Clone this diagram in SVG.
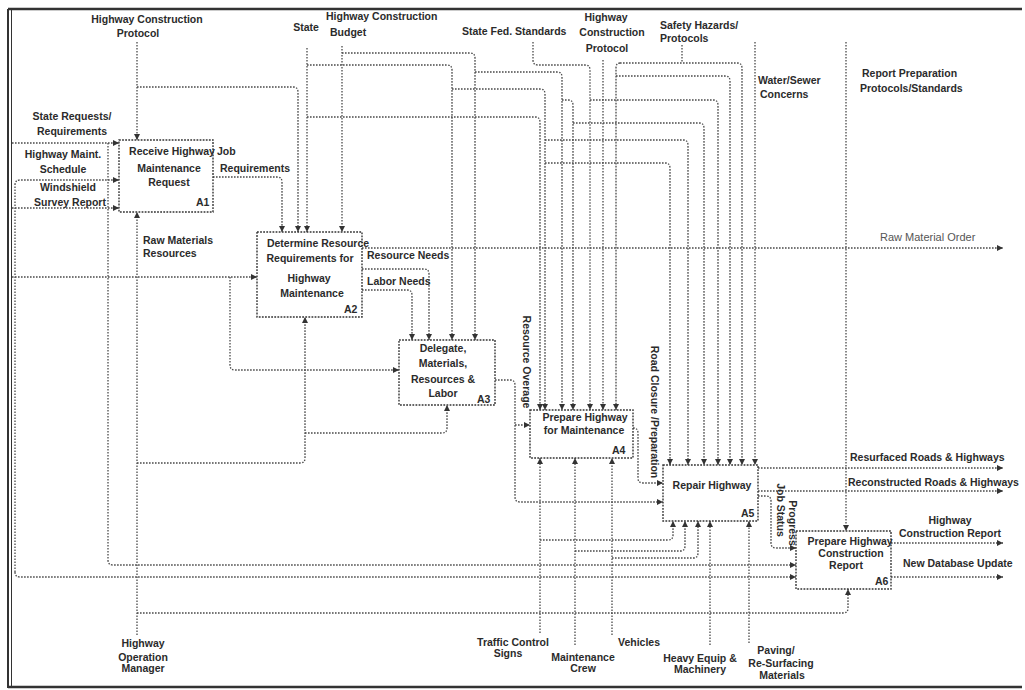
<svg xmlns="http://www.w3.org/2000/svg" width="1025" height="690" viewBox="0 0 1025 690">
<defs>
<marker id="ar" markerUnits="userSpaceOnUse" markerWidth="8" markerHeight="8" refX="6" refY="3" orient="auto">
<path d="M0,0 L6,3 L0,6 z" fill="#333"/>
</marker>
<style>
.c{fill:none;stroke:#4a4a4a;stroke-width:1.3;stroke-dasharray:1.6 1.4}
.b{fill:#fff;stroke:#333;stroke-width:1.4;stroke-dasharray:1.8 1.3}
.t{font-family:"Liberation Sans",Arial,sans-serif;font-size:10.5px;font-weight:bold;fill:#2b2b2b}
.m{text-anchor:middle}
.n{font-family:"Liberation Sans",Arial,sans-serif;font-size:11px;fill:#555}
.f{fill:none;stroke:#333}
</style>
</defs>
<rect width="1025" height="690" fill="#fff"/>
<g id="frame">
<path class="f" d="M8,9 H1022" stroke-width="2.5"/>
<path class="f" d="M8,687 H1022" stroke-width="2.5"/>
<path class="f" d="M8,9 V688" stroke-width="2"/>
<path class="f" d="M11.5,9 V688" stroke-width="1"/>
</g>
<g id="connectors">
<path class="c" d="M137,42 V140" marker-end="url(#ar)"/>
<path class="c" d="M137,87 H293 Q298,87 298,92 V232" marker-end="url(#ar)"/>
<path class="c" d="M307,48 V232" marker-end="url(#ar)"/>
<path class="c" d="M307,65 H447 Q452,65 452,70 V340" marker-end="url(#ar)"/>
<path class="c" d="M452,89 H540 Q545,89 545,94 V410" marker-end="url(#ar)"/>
<path class="c" d="M307,117 H535 Q540,117 540,122 V410" marker-end="url(#ar)"/>
<path class="c" d="M545,140 H683 Q688,140 688,145 V465" marker-end="url(#ar)"/>
<path class="c" d="M545,163 H665 Q670,163 670,168 V465" marker-end="url(#ar)"/>
<path class="c" d="M342,46 V232" marker-end="url(#ar)"/>
<path class="c" d="M342,53 H470 Q475,53 475,58 V340" marker-end="url(#ar)"/>
<path class="c" d="M475,72 H557 Q562,72 562,77 V410" marker-end="url(#ar)"/>
<path class="c" d="M562,100 H568 Q573,100 573,105 V410" marker-end="url(#ar)"/>
<path class="c" d="M573,123 H699 Q704,123 704,128 V465" marker-end="url(#ar)"/>
<path class="c" d="M533,42 V60 Q533,65 538,65 H585 Q590,65 590,70 V410" marker-end="url(#ar)"/>
<path class="c" d="M590,100 H713 Q718,100 718,105 V465" marker-end="url(#ar)"/>
<path class="c" d="M603,60 V410" marker-end="url(#ar)"/>
<path class="c" d="M682,45 V63"/>
<path class="c" d="M620,63 H737 Q742,63 742,68 V465" marker-end="url(#ar)"/>
<path class="c" d="M620,63 Q616,63 616,68 V410" marker-end="url(#ar)"/>
<path class="c" d="M616,76 H725 Q730,76 730,81 V465" marker-end="url(#ar)"/>
<path class="c" d="M755,42 V465" marker-end="url(#ar)"/>
<path class="c" d="M846,42 V531" marker-end="url(#ar)"/>
<path class="c" d="M12,143 H119" marker-end="url(#ar)"/>
<path class="c" d="M108,143 V560 Q108,565 113,565 H796" marker-end="url(#ar)"/>
<path class="c" d="M15,572 V185 Q15,180 20,180 H119" marker-end="url(#ar)"/>
<path class="c" d="M15,572 Q15,577 20,577 H796" marker-end="url(#ar)"/>
<path class="c" d="M12,208 H119" marker-end="url(#ar)"/>
<path class="c" d="M213,177 H277 Q282,177 282,182 V232" marker-end="url(#ar)"/>
<path class="c" d="M12,277 H257" marker-end="url(#ar)"/>
<path class="c" d="M230,277 V365 Q230,370 235,370 H399" marker-end="url(#ar)"/>
<path class="c" d="M137,635 V212" marker-end="url(#ar)"/>
<path class="c" d="M137,463 H300 Q305,463 305,458 V317" marker-end="url(#ar)"/>
<path class="c" d="M305,433 H442 Q447,433 447,428 V405" marker-end="url(#ar)"/>
<path class="c" d="M137,613 H843 Q848,613 848,608 V589" marker-end="url(#ar)"/>
<path class="c" d="M362,248 H1003" marker-end="url(#ar)"/>
<path class="c" d="M362,269 H424 Q429,269 429,274 V340" marker-end="url(#ar)"/>
<path class="c" d="M362,290 H407 Q412,290 412,295 V340" marker-end="url(#ar)"/>
<path class="c" d="M495,380 H510 Q515,380 515,385 V497 Q515,502 520,502 H663" marker-end="url(#ar)"/>
<path class="c" d="M515,425 H530" marker-end="url(#ar)"/>
<path class="c" d="M633,428 Q638,428 638,433 V478 Q638,483 643,483 H663" marker-end="url(#ar)"/>
<path class="c" d="M540,633 V458" marker-end="url(#ar)"/>
<path class="c" d="M575,645 V458" marker-end="url(#ar)"/>
<path class="c" d="M612,635 V458" marker-end="url(#ar)"/>
<path class="c" d="M540,540 H668 Q673,540 673,535 V521" marker-end="url(#ar)"/>
<path class="c" d="M575,551 H680 Q685,551 685,546 V521" marker-end="url(#ar)"/>
<path class="c" d="M612,558 H693 Q698,558 698,553 V521" marker-end="url(#ar)"/>
<path class="c" d="M710,645 V521" marker-end="url(#ar)"/>
<path class="c" d="M749,643 V521" marker-end="url(#ar)"/>
<path class="c" d="M758,468 H1003" marker-end="url(#ar)"/>
<path class="c" d="M758,491 H1003" marker-end="url(#ar)"/>
<path class="c" d="M758,496 H766 Q771,496 771,501 V543 Q771,548 776,548 H796" marker-end="url(#ar)"/>
<path class="c" d="M891,543 H1003" marker-end="url(#ar)"/>
<path class="c" d="M891,577 H1003" marker-end="url(#ar)"/>
</g>
<g id="A1">
<rect class="b" x="119" y="140" width="94" height="72"/>
<text class="t m" x="172" y="155">Receive Highway</text>
<text class="t m" x="169" y="172">Maintenance</text>
<text class="t m" x="169" y="186">Request</text>
<text class="t" x="196" y="206">A1</text>
</g>
<g id="A2">
<rect class="b" x="257" y="232" width="105" height="85"/>
<text class="t m" x="318" y="247">Determine Resource</text>
<text class="t m" x="310" y="262">Requirements for</text>
<text class="t m" x="309" y="282">Highway</text>
<text class="t m" x="312" y="297">Maintenance</text>
<text class="t" x="344" y="313">A2</text>
</g>
<g id="A3">
<rect class="b" x="399" y="340" width="96" height="65"/>
<text class="t m" x="443" y="352">Delegate,</text>
<text class="t m" x="443" y="367">Materials,</text>
<text class="t m" x="443" y="383">Resources &amp;</text>
<text class="t m" x="443" y="397">Labor</text>
<text class="t" x="477" y="403">A3</text>
</g>
<g id="A4">
<rect class="b" x="530" y="410" width="103" height="48"/>
<text class="t m" x="585" y="421">Prepare Highway</text>
<text class="t m" x="584" y="434">for Maintenance</text>
<text class="t" x="612" y="454">A4</text>
</g>
<g id="A5">
<rect class="b" x="663" y="465" width="95" height="56"/>
<text class="t m" x="712" y="489">Repair Highway</text>
<text class="t" x="741" y="517">A5</text>
</g>
<g id="A6">
<rect class="b" x="796" y="531" width="95" height="58"/>
<text class="t m" x="850" y="545">Prepare Highway</text>
<text class="t m" x="851" y="557">Construction</text>
<text class="t m" x="846" y="569">Report</text>
<text class="t" x="875" y="585">A6</text>
</g>
<g id="labels">
<text class="t m" x="147" y="23">Highway Construction</text>
<text class="t m" x="138" y="37">Protocol</text>
<text class="t m" x="306" y="31">State</text>
<text class="t" x="326" y="20">Highway Construction</text>
<text class="t" x="330" y="36">Budget</text>
<text class="t" x="462" y="35">State Fed. Standards</text>
<text class="t m" x="606" y="21">Highway</text>
<text class="t m" x="612" y="36">Construction</text>
<text class="t m" x="607" y="52">Protocol</text>
<text class="t" x="660" y="29">Safety Hazards/</text>
<text class="t" x="660" y="42">Protocols</text>
<text class="t" x="758" y="84">Water/Sewer</text>
<text class="t" x="760" y="98">Concerns</text>
<text class="t" x="862" y="77">Report Preparation</text>
<text class="t" x="860" y="92">Protocols/Standards</text>
<text class="t m" x="72" y="120">State Requests/</text>
<text class="t m" x="72" y="135">Requirements</text>
<text class="t m" x="63" y="158">Highway Maint.</text>
<text class="t m" x="63" y="173">Schedule</text>
<text class="t m" x="68" y="191">Windshield</text>
<text class="t m" x="70" y="206">Survey Report</text>
<text class="t" x="217" y="155">Job</text>
<text class="t" x="220" y="172">Requirements</text>
<text class="t" x="143" y="244">Raw Materials</text>
<text class="t" x="143" y="257">Resources</text>
<text class="t" x="367" y="259">Resource Needs</text>
<text class="t" x="367" y="285">Labor Needs</text>
<text class="n" x="880" y="241">Raw Material Order</text>
<text class="t m" transform="translate(523,362) rotate(90)">Resource Overage</text>
<text class="t m" transform="translate(651,412) rotate(90)">Road Closure /Preparation</text>
<text class="t" x="850" y="461">Resurfaced Roads &amp; Highways</text>
<text class="t" x="848" y="486">Reconstructed Roads &amp; Highways</text>
<text class="t m" x="950" y="524">Highway</text>
<text class="t m" x="950" y="537">Construction Report</text>
<text class="t" x="903" y="567">New Database Update</text>
<text class="t m" transform="translate(777,510) rotate(90)">Job Status</text>
<text class="t m" transform="translate(789,523) rotate(90)">Progress</text>
<text class="t m" x="143" y="647">Highway</text>
<text class="t m" x="143" y="661">Operation</text>
<text class="t m" x="143" y="672">Manager</text>
<text class="t m" x="513" y="646">Traffic Control</text>
<text class="t m" x="508" y="657">Signs</text>
<text class="t m" x="583" y="661">Maintenance</text>
<text class="t m" x="583" y="672">Crew</text>
<text class="t" x="618" y="646">Vehicles</text>
<text class="t m" x="700" y="662">Heavy Equip &amp;</text>
<text class="t m" x="700" y="673">Machinery</text>
<text class="t m" x="776" y="654">Paving/</text>
<text class="t m" x="781" y="667">Re-Surfacing</text>
<text class="t m" x="782" y="679">Materials</text>
</g>
</svg>
